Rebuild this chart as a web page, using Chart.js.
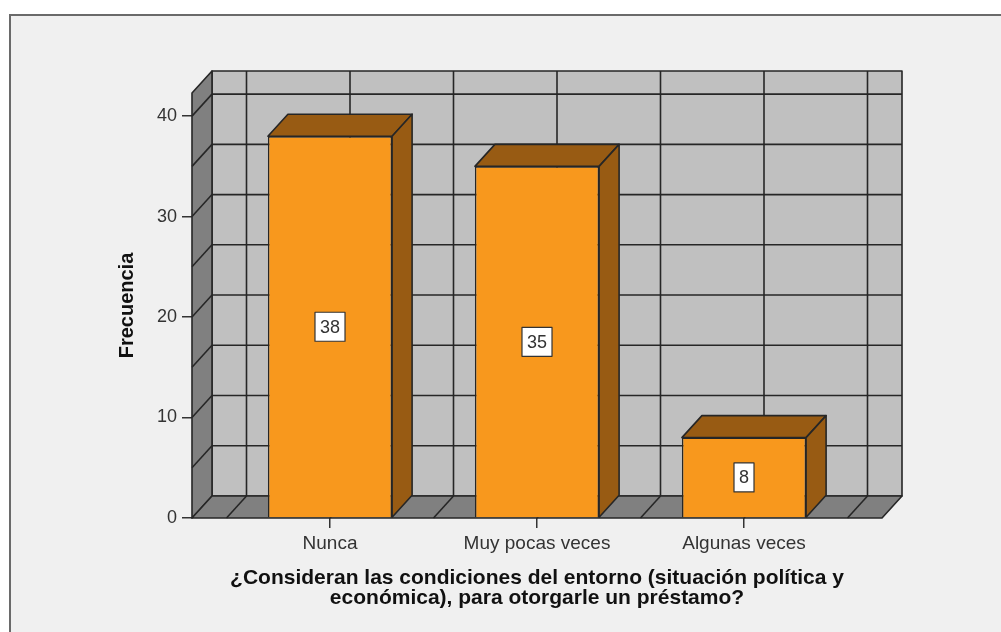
<!DOCTYPE html>
<html>
<head>
<meta charset="utf-8">
<script src="https://cdn.jsdelivr.net/npm/chart.js@4.4.1/dist/chart.umd.min.js"></script>
<style>
  html, body { margin: 0; padding: 0; background: #fff; }
  canvas { display: block; }
</style>
</head>
<body>
<canvas id="frecuenciaChart" width="1001" height="632"></canvas>
<script>
// data
const categories = ['Nunca', 'Muy pocas veces', 'Algunas veces'];
const frequencies = [38, 35, 8];
const yTicks = [0, 10, 20, 30, 40];
const yTitle = 'Frecuencia';
const xTitle = [
  '¿Consideran las condiciones del entorno (situación política y',
  'económica), para otorgarle un préstamo?'
];

// 3D look
const DX = 20, DY = 22;
const FRONT = '#f8981d';
const SHADE = '#985b13';
const WALL = '#c0c0c0';
const SIDE = '#808080';
const INK = '#262626';
const FONT = '"Liberation Sans", Arial, sans-serif';

function poly(ctx, pts, fill) {
  ctx.beginPath();
  ctx.moveTo(pts[0][0], pts[0][1]);
  for (let i = 1; i < pts.length; i++) ctx.lineTo(pts[i][0], pts[i][1]);
  ctx.closePath();
  if (fill) {
    ctx.fillStyle = fill;
    ctx.fill();
  }
  ctx.stroke();
}

function line(ctx, x1, y1, x2, y2) {
  ctx.beginPath();
  ctx.moveTo(x1, y1);
  ctx.lineTo(x2, y2);
  ctx.stroke();
}

const box3d = {
  id: 'box3d',
  beforeDraw(chart) {
    const { ctx, width, height } = chart;
    ctx.save();
    ctx.fillStyle = '#fff';
    ctx.fillRect(0, 0, width, height);
    ctx.fillStyle = '#f0f0f0';
    ctx.fillRect(10, 15, width, height);
    ctx.strokeStyle = '#6a6a6a';
    ctx.lineWidth = 2;
    ctx.beginPath();
    ctx.moveTo(10, height);
    ctx.lineTo(10, 15);
    ctx.lineTo(width, 15);
    ctx.stroke();
    ctx.restore();
  },
  beforeDatasetsDraw(chart) {
    const { ctx, chartArea: a, scales: { x, y } } = chart;
    ctx.save();
    ctx.lineWidth = 1.6;
    ctx.strokeStyle = INK;
    ctx.lineJoin = 'round';

    // back wall, left wall, floor
    poly(ctx, [[a.left + DX, a.top - DY], [a.right + DX, a.top - DY],
               [a.right + DX, a.bottom - DY], [a.left + DX, a.bottom - DY]], WALL);
    poly(ctx, [[a.left, a.bottom], [a.left, a.top],
               [a.left + DX, a.top - DY], [a.left + DX, a.bottom - DY]], SIDE);
    poly(ctx, [[a.left, a.bottom], [a.right, a.bottom],
               [a.right + DX, a.bottom - DY], [a.left + DX, a.bottom - DY]], SIDE);

    // horizontal grid every 5
    for (let v = 5; v <= y.max; v += 5) {
      const py = y.getPixelForValue(v);
      line(ctx, a.left + DX, py - DY, a.right + DX, py - DY);
      line(ctx, a.left, py, a.left + DX, py - DY);
    }
    // vertical grid every half category
    for (let v = 0.5; v <= x.max; v += 0.5) {
      if (v < x.min) continue;
      const px = x.getPixelForValue(v);
      line(ctx, px + DX, a.top - DY, px + DX, a.bottom - DY);
      line(ctx, px, a.bottom, px + DX, a.bottom - DY);
    }
    ctx.restore();
  },
  afterDatasetsDraw(chart) {
    const ctx = chart.ctx;
    const meta = chart.getDatasetMeta(0);
    ctx.save();
    ctx.lineWidth = 1.6;
    ctx.strokeStyle = INK;
    ctx.lineJoin = 'round';
    meta.data.forEach((bar, i) => {
      const l = bar.x - bar.width / 2, r = bar.x + bar.width / 2;
      const t = bar.y, b = bar.base;
      poly(ctx, [[l, t], [l + DX, t - DY], [r + DX, t - DY], [r, t]], SHADE);
      poly(ctx, [[r, t], [r + DX, t - DY], [r + DX, b - DY], [r, b]], SHADE);

      // value label box
      const txt = String(frequencies[i]);
      ctx.font = '18px ' + FONT;
      const w = ctx.measureText(txt).width + 10;
      const h = 29;
      const cy = (t + b) / 2;
      ctx.fillStyle = '#fff';
      ctx.lineWidth = 1.2;
      ctx.strokeStyle = '#333';
      ctx.fillRect(bar.x - w / 2, cy - h / 2, w, h);
      ctx.strokeRect(bar.x - w / 2, cy - h / 2, w, h);
      ctx.fillStyle = '#333';
      ctx.textAlign = 'center';
      ctx.textBaseline = 'middle';
      ctx.fillText(txt, bar.x, cy + 1);
      ctx.lineWidth = 1.6;
      ctx.strokeStyle = INK;
    });
    ctx.restore();
  }
};

const ctx = document.getElementById('frecuenciaChart').getContext('2d');
new Chart(ctx, {
  type: 'bar',
  data: {
    datasets: [{
      label: 'Frecuencia',
      data: frequencies.map((v, i) => ({ x: i + 1, y: v })),
      backgroundColor: FRONT,
      borderColor: INK,
      borderWidth: 1.5,
      barPercentage: 0.6,
      categoryPercentage: 1
    }]
  },
  options: {
    responsive: false,
    animation: false,
    devicePixelRatio: 1,
    layout: { padding: { left: 100, right: 119, top: 93, bottom: 0 } },
    plugins: {
      legend: { display: false },
      tooltip: { enabled: false }
    },
    scales: {
      x: {
        type: 'linear',
        offset: false,
        min: 1 / 3,
        max: 11 / 3,
        afterBuildTicks: (scale) => {
          scale.ticks = categories.map((c, i) => ({ value: i + 1 }));
        },
        afterFit: (scale) => { scale.height = 114; },
        grid: { offset: false, drawOnChartArea: false, drawTicks: true, tickLength: 10, color: '#333', lineWidth: 1.5 },
        border: { display: false },
        ticks: {
          padding: 4,
          color: '#333',
          font: { family: FONT, size: 19 },
          maxRotation: 0,
          autoSkip: false,
          callback: (v) => categories[v - 1] || ''
        },
        title: {
          display: true,
          text: xTitle,
          color: '#111',
          font: { family: FONT, size: 21, weight: 'bold', lineHeight: '20px' },
          padding: { top: 0, bottom: 24 }
        }
      },
      y: {
        min: 0,
        max: 42.3,
        afterBuildTicks: (scale) => {
          scale.ticks = yTicks.map(v => ({ value: v }));
        },
        afterFit: (scale) => { scale.width = 92; },
        grid: { drawOnChartArea: false, drawTicks: true, tickLength: 10, color: '#333', lineWidth: 1.5 },
        border: { display: false },
        ticks: {
          padding: 5,
          color: '#333',
          font: { family: FONT, size: 18 }
        },
        title: {
          display: true,
          text: yTitle,
          color: '#111',
          font: { family: FONT, size: 20, weight: 'bold' },
          padding: { top: 15, bottom: 0 }
        }
      }
    }
  },
  plugins: [box3d]
});
</script>
</body>
</html>
